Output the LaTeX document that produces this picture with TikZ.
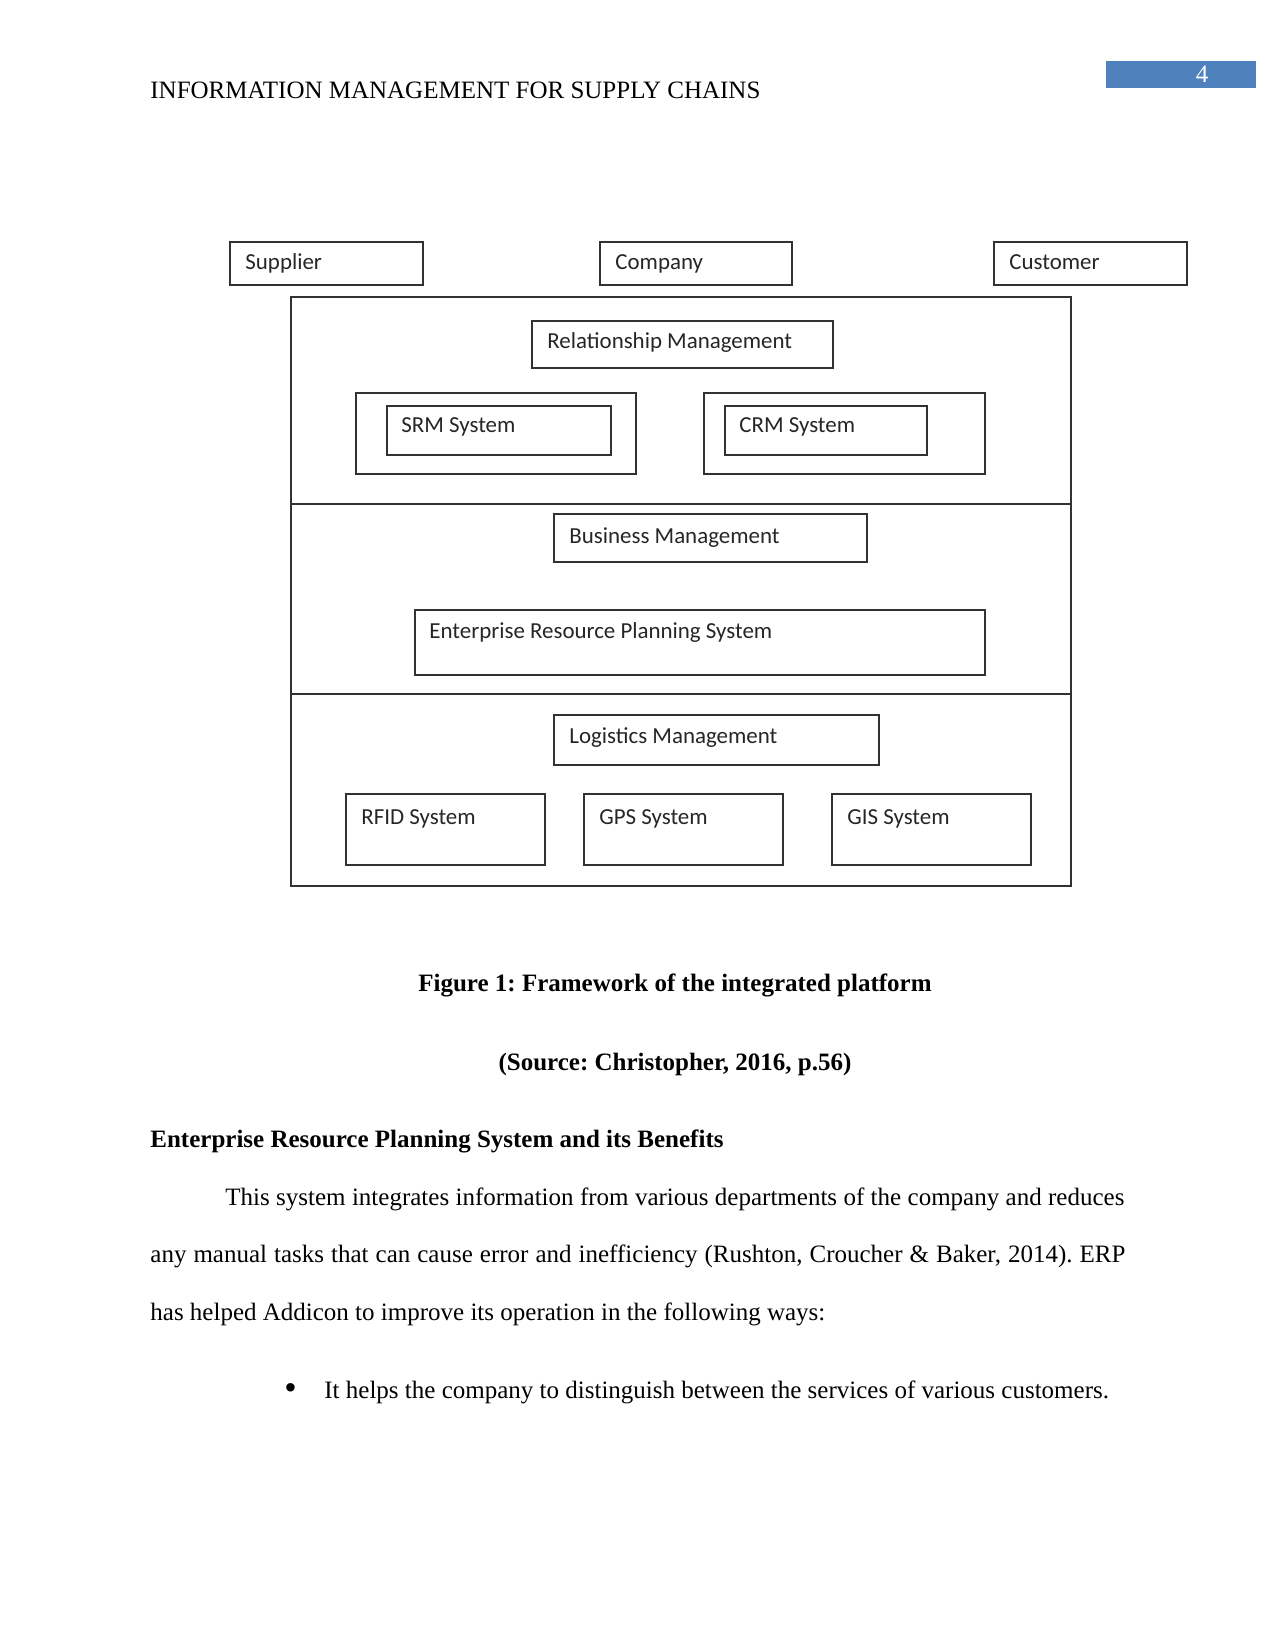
\documentclass[tikz,border=0pt]{standalone}
\usepackage{fontspec}
\setmainfont{Liberation Serif}
\newfontfamily\boxfont{Carlito}
\definecolor{pagenum}{RGB}{79,129,189}
\definecolor{boxline}{RGB}{50,50,50}
\frenchspacing
\begin{document}
\begin{tikzpicture}[x=0.48pt,y=-0.48pt,
  box/.style={draw=boxline,line width=0.8pt,rectangle,inner sep=0pt,anchor=north west},
  boxlabel/.style={anchor=base west,inner sep=0pt,font=\boxfont\fontsize{11}{13}\selectfont,text=black!85},
  body/.style={anchor=base west,inner sep=0pt,font=\fontsize{12}{14}\selectfont},
  bodyc/.style={anchor=base,inner sep=0pt,font=\fontsize{12}{14}\selectfont\bfseries}]
\useasboundingbox[fill=white] (0,0) rectangle (1275,1650);

% header
\node[body] (hdr) at (150,99) {INFORMATION MANAGEMENT FOR SUPPLY CHAINS};
\node[fill=pagenum,minimum width=150*0.48pt,minimum height=27*0.48pt,inner sep=0pt,anchor=north west] (pnbox) at (1106,61) {};
\node[anchor=base,inner sep=0pt,text=white,font=\fontsize{12}{14}\selectfont] (pn) at (1202,83) {4};

% top boxes
\node[box,minimum width=193*0.48pt,minimum height=43*0.48pt] (sup) at (229,241) {};
\node[box,minimum width=192*0.48pt,minimum height=43*0.48pt] (com) at (599,241) {};
\node[box,minimum width=193*0.48pt,minimum height=43*0.48pt] (cus) at (993,241) {};
\node[boxlabel] (supl) at ([shift={(16,29)}]sup.north west) {Supplier};
\node[boxlabel] (coml) at ([shift={(16,29)}]com.north west) {Company};
\node[boxlabel] (cusl) at ([shift={(16,29)}]cus.north west) {Customer};

% outer frame and layers
\node[box,minimum width=780*0.48pt,minimum height=589*0.48pt] (frame) at (290,296) {};
\coordinate (d1l) at (290,504);
\coordinate (d1r) at (1070,504);
\coordinate (d2l) at (290,694);
\coordinate (d2r) at (1070,694);
\draw[draw=boxline,line width=0.8pt] (d1l) -- (d1r);
\draw[draw=boxline,line width=0.8pt] (d2l) -- (d2r);

% layer 1
\node[box,minimum width=301*0.48pt,minimum height=47*0.48pt] (rel) at (531,320) {};
\node[boxlabel] (rell) at ([shift={(16,29)}]rel.north west) {Relationship Management};
\node[box,minimum width=280*0.48pt,minimum height=81*0.48pt] (srmo) at (355,392) {};
\node[box,minimum width=224*0.48pt,minimum height=49*0.48pt] (srmi) at (386,405) {};
\node[boxlabel] (srml) at ([shift={(15,28)}]srmi.north west) {SRM System};
\node[box,minimum width=281*0.48pt,minimum height=81*0.48pt] (crmo) at (703,392) {};
\node[box,minimum width=202*0.48pt,minimum height=49*0.48pt] (crmi) at (724,405) {};
\node[boxlabel] (crml) at ([shift={(15,28)}]crmi.north west) {CRM System};

% layer 2
\node[box,minimum width=313*0.48pt,minimum height=48*0.48pt] (bus) at (553,513) {};
\node[boxlabel] (busl) at ([shift={(16,30)}]bus.north west) {Business Management};
\node[box,minimum width=570*0.48pt,minimum height=65*0.48pt] (erp) at (414,609) {};
\node[boxlabel] (erpl) at ([shift={(15,29)}]erp.north west) {Enterprise Resource Planning System};

% layer 3
\node[box,minimum width=325*0.48pt,minimum height=50*0.48pt] (log) at (553,714) {};
\node[boxlabel] (logl) at ([shift={(16,29)}]log.north west) {Logistics Management};
\node[box,minimum width=199*0.48pt,minimum height=71*0.48pt] (rfid) at (345,793) {};
\node[boxlabel] (rfidl) at ([shift={(16,31)}]rfid.north west) {RFID System};
\node[box,minimum width=199*0.48pt,minimum height=71*0.48pt] (gps) at (583,793) {};
\node[boxlabel] (gpsl) at ([shift={(16,31)}]gps.north west) {GPS System};
\node[box,minimum width=199*0.48pt,minimum height=71*0.48pt] (gis) at (831,793) {};
\node[boxlabel] (gisl) at ([shift={(16,31)}]gis.north west) {GIS System};

% captions
\node[bodyc] (cap) at (675,991) {Figure 1: Framework of the integrated platform};
\node[bodyc] (src) at (675,1070) {(Source: Christopher, 2016, p.56)};

% section text
\node[body,font=\fontsize{12}{14}\selectfont\bfseries] (head) at (150,1147) {Enterprise Resource Planning System and its Benefits};
\node[body] (p1) at (225,1205) {\makebox[431.5pt][s]{This system integrates information from various departments of the company and reduces}};
\node[body] (p2) at (150,1262) {\makebox[468pt][s]{any manual tasks that can cause error and inefficiency (Rushton, Croucher \& Baker, 2014). ERP}};
\node[body] (p3) at (150,1320) {has helped Addicon to improve its operation in the following ways:};
\node[body,font=\fontsize{17}{14}\selectfont] (bul) at (284,1399) {\textbullet};
\node[body] (b1) at (324,1398) {It helps the company to distinguish between the services of various customers.};
\end{tikzpicture}
\end{document}
